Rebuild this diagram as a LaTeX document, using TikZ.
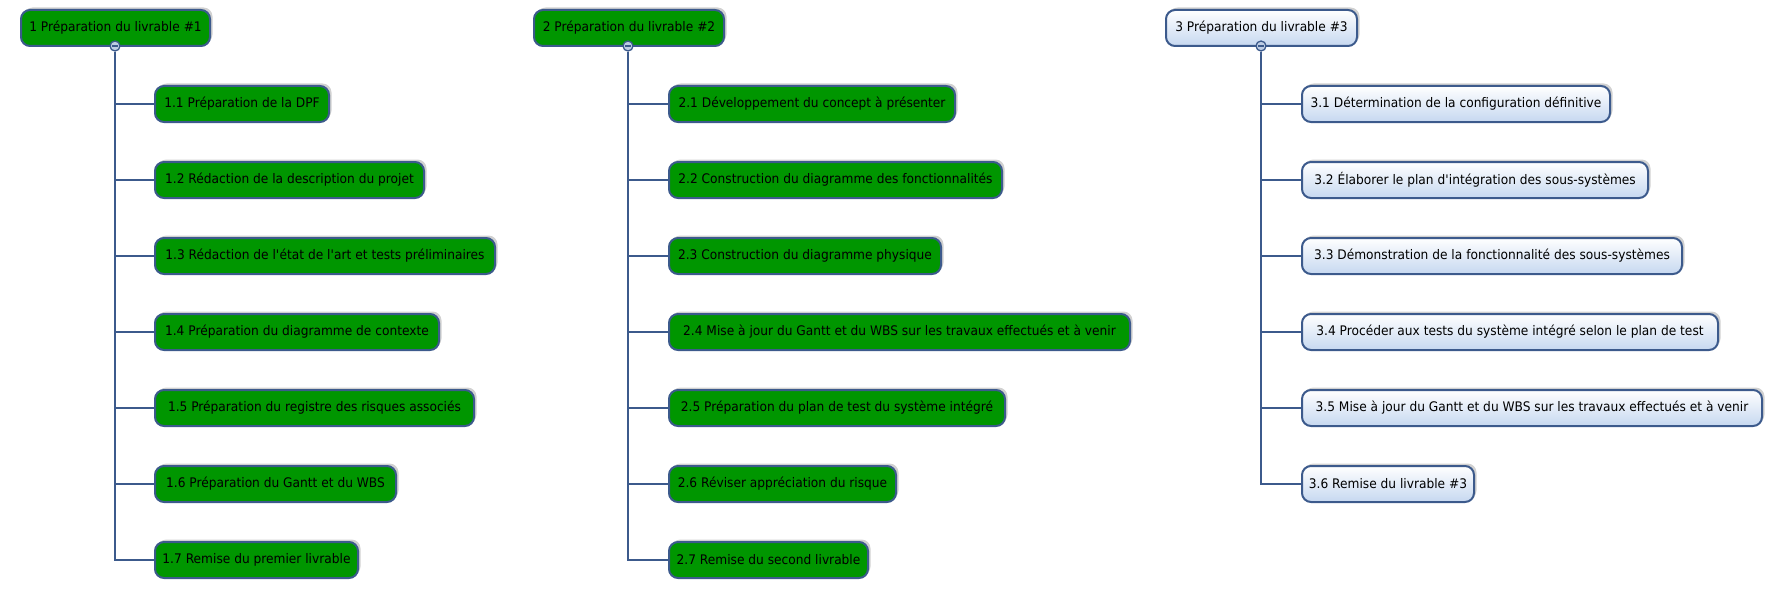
\documentclass[tikz,border=0pt]{standalone}
\usepackage{fontspec}
\setmainfont[FakeStretch=0.925]{DejaVu Sans}
\usetikzlibrary{shadows}
\definecolor{bord}{RGB}{60,90,140}
\definecolor{grn}{RGB}{0,150,0}
\definecolor{lblue}{RGB}{198,216,240}
\definecolor{ccirc}{RGB}{190,205,228}
\tikzset{
  wbsbox/.style={draw=bord, line width=2, rounded corners=9, minimum height=36,
    inner sep=0, anchor=west, text=black, font=\fontsize{13.2}{15}\selectfont,
    drop shadow={shadow xshift=2.5, shadow yshift=-2.5, opacity=0.3, fill=black!60}},
  gbox/.style={wbsbox, fill=grn},
  bbox/.style={wbsbox, top color=white, bottom color=lblue},
  conn/.style={draw=bord, line width=2.3},
  tog/.style={circle, draw=bord, fill=ccirc, line width=1.3, minimum size=10, inner sep=0},
}
\begin{document}
\begin{tikzpicture}[x=1pt, y=-1pt]
\useasboundingbox (0,0) rectangle (1778,602);
% group 1
\node[gbox, minimum width=189] (r1) at (20,28) {1 Préparation du livrable \#1};
\node[tog] (r1t) at (115,46) {};
\draw[bord, line width=1.6] ([xshift=-3]r1t.center) -- ([xshift=3]r1t.center);
\foreach \n/\y/\w/\t in {
  11/104/174/{1.1 Préparation de la DPF},
  12/180/269/{1.2 Rédaction de la description du projet},
  13/256/340/{1.3 Rédaction de l\textquotesingle état de l\textquotesingle art et tests préliminaires},
  14/332/284/{1.4 Préparation du diagramme de contexte},
  15/408/319/{1.5 Préparation du registre des risques associés},
  16/484/241/{1.6 Préparation du Gantt et du WBS},
  17/560/203/{1.7 Remise du premier livrable}}{
  \node[gbox, minimum width=\w] (c\n) at (154,\y) {\t};
  \draw[conn] (r1t.south) |- (c\n.west);
}
% group 2
\node[gbox, minimum width=190] (r2) at (533,28) {2 Préparation du livrable \#2};
\node[tog] (r2t) at (628,46) {};
\draw[bord, line width=1.6] ([xshift=-3]r2t.center) -- ([xshift=3]r2t.center);
\foreach \n/\y/\w/\t in {
  21/104/286/{2.1 Développement du concept à présenter},
  22/180/333/{2.2 Construction du diagramme des fonctionnalités},
  23/256/272/{2.3 Construction du diagramme physique},
  24/332/461/{2.4 Mise à jour du Gantt et du WBS sur les travaux effectués et à venir},
  25/408/336/{2.5 Préparation du plan de test du système intégré},
  26/484/227/{2.6 Réviser appréciation du risque},
  27/560/199/{2.7 Remise du second livrable}}{
  \node[gbox, minimum width=\w] (c\n) at (668,\y) {\t};
  \draw[conn] (r2t.south) |- (c\n.west);
}
% group 3
\node[bbox, minimum width=191] (r3) at (1165,28) {3 Préparation du livrable \#3};
\node[tog] (r3t) at (1261,46) {};
\draw[bord, line width=1.6] ([xshift=-3]r3t.center) -- ([xshift=3]r3t.center);
\foreach \n/\y/\w/\t in {
  31/104/308/{3.1 Détermination de la configuration définitive},
  32/180/346/{3.2 Élaborer le plan d\textquotesingle intégration des sous-systèmes},
  33/256/380/{3.3 Démonstration de la fonctionnalité des sous-systèmes},
  34/332/416/{3.4 Procéder aux tests du système intégré selon le plan de test},
  35/408/460/{3.5 Mise à jour du Gantt et du WBS sur les travaux effectués et à venir},
  36/484/172/{3.6 Remise du livrable \#3}}{
  \node[bbox, minimum width=\w] (c\n) at (1301,\y) {\t};
  \draw[conn] (r3t.south) |- (c\n.west);
}
\end{tikzpicture}
\end{document}
